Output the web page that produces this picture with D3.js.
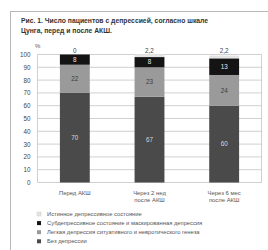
<!DOCTYPE html>
<html><head><meta charset="utf-8">
<script src="https://cdn.jsdelivr.net/npm/d3@7"></script>
<style>
html,body{margin:0;padding:0;background:#fff;}
svg{display:block;font-family:"Liberation Sans",Arial,sans-serif;}
</style></head>
<body><svg id="c" width="268" height="250"></svg>
<script>
const title = ["Рис. 1. Число пациентов с депрессией, согласно шкале", "Цунга, перед и после АКШ."];
const categories = [["Перед АКШ"], ["Через 2 нед", "после АКШ"], ["Через 6 мес", "после АКШ"]];
const seriesNames = ["Без депрессии", "Легкая депрессия ситуативного и невротического генеза", "Субдепрессивное состояние и маскированная депрессия", "Истинное депрессивное состояние"];
const noDepression = [70, 67, 60];
const mildDepression = [22, 23, 24];
const subDepression = [8, 8, 13];
const trueDepression = [0, 2.2, 2.2];
const topLabels = ["0", "2,2", "2,2"];
const yTicks = [0, 10, 20, 30, 40, 50, 60, 70, 80, 90, 100];
const legendOrder = [3, 2, 1, 0];

const colors = ["#4a4a4a", "#9a9a9a", "#141414", "#e4e4e4"];
const labelColors = ["#d8d8d8", "#3a3a3a", "#e8e8e8", null];
const series = [noDepression, mildDepression, subDepression, trueDepression];

const svg = d3.select("#c");
svg.append("rect").attr("x", 10.5).attr("y", 11.5).attr("width", 270).attr("height", 250)
  .attr("fill", "#fff").attr("stroke", "#b8b8b8").attr("stroke-width", 1);

svg.append("g").selectAll("text").data(title).join("text")
  .attr("x", 21).attr("y", (d, i) => 23 + i * 10)
  .attr("font-size", 6.8).attr("font-weight", "bold").attr("fill", "#333").text(d => d);

const x = d3.scaleBand().domain(d3.range(categories.length)).range([37.5, 261.5]).paddingInner(0.6).paddingOuter(0.3);
const y = d3.scaleLinear().domain([0, 100]).range([182.5, 54.5]);

svg.append("g").selectAll("line").data(yTicks).join("line")
  .attr("x1", 37.5).attr("x2", 261.5).attr("y1", d => y(d)).attr("y2", d => y(d))
  .attr("stroke", "#c4c4c4").attr("stroke-width", 0.8);
svg.append("line").attr("x1", 37.5).attr("x2", 37.5).attr("y1", y(100)).attr("y2", y(0)).attr("stroke", "#c4c4c4").attr("stroke-width", 0.8);
svg.append("line").attr("x1", 261.5).attr("x2", 261.5).attr("y1", y(100)).attr("y2", y(0)).attr("stroke", "#c4c4c4").attr("stroke-width", 0.8);

const yAxis = d3.axisLeft(y).tickValues(yTicks).tickSize(0).tickPadding(7);
const ya = svg.append("g").attr("transform", "translate(37.5,0)").call(yAxis);
ya.select(".domain").remove();
ya.selectAll("text").attr("font-size", 6.3).attr("fill", "#444").attr("font-family", "Liberation Sans, Arial, sans-serif");
svg.append("text").attr("x", 35).attr("y", 48).attr("font-size", 6).attr("fill", "#555").text("%");

const stackData = categories.map((c, i) => ({i, v: series.map(s => s[i])}));
const stack = d3.stack().keys(d3.range(series.length)).value((d, k) => d.v[k]);
const layers = stack(stackData);
const bw = x.bandwidth();
layers.forEach((layer, k) => {
  const g = svg.append("g");
  g.selectAll("rect").data(layer).join("rect")
    .attr("x", (d, i) => x(i)).attr("width", bw)
    .attr("y", d => y(d[1])).attr("height", d => y(d[0]) - y(d[1]))
    .attr("fill", colors[k]);
  if (labelColors[k]) {
    g.selectAll("text").data(layer).join("text")
      .attr("x", (d, i) => x(i) + bw / 2).attr("y", d => (y(d[0]) + y(d[1])) / 2 + 2.2)
      .attr("text-anchor", "middle").attr("font-size", 6.3).attr("fill", labelColors[k])
      .text((d, i) => series[k][i]);
  }
});
svg.append("g").selectAll("text").data(topLabels).join("text")
  .attr("x", (d, i) => x(i) + bw / 2).attr("y", 52.5)
  .attr("text-anchor", "middle").attr("font-size", 6.3).attr("fill", "#444").text(d => d);

const xl = svg.append("g");
categories.forEach((lines, i) => {
  lines.forEach((t, j) => {
    xl.append("text").attr("x", x(i) + bw / 2).attr("y", 194.5 + j * 7.8)
      .attr("text-anchor", "middle").attr("font-size", 5.9).attr("fill", "#555").text(t);
  });
});

const lg = svg.append("g");
legendOrder.forEach((k, r) => {
  const cy = 214 + r * 9.1;
  lg.append("rect").attr("x", 37).attr("y", cy - 2).attr("width", 4).attr("height", 4)
    .attr("fill", colors[k]).attr("stroke", k === 3 ? "#ccc" : "none").attr("stroke-width", 0.5);
  lg.append("text").attr("x", 47).attr("y", cy + 2.1).attr("font-size", 5.8).attr("fill", "#555").text(seriesNames[k]);
});
</script></body></html>
